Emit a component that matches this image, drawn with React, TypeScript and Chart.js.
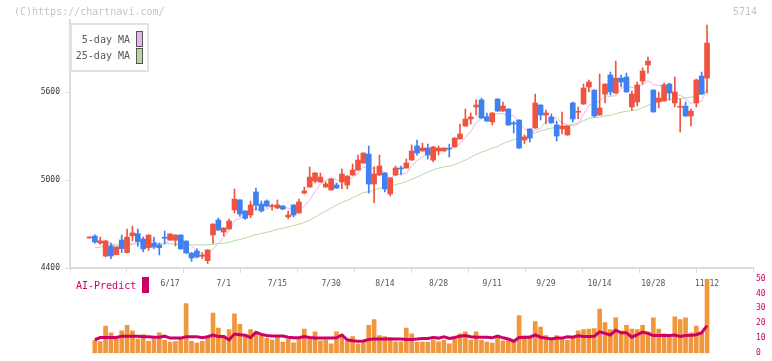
import React, { useEffect, useRef } from 'react';
import { Chart, registerables } from 'chart.js';

Chart.register(...registerables);

// ---- tick labels (every 10th session) ----
const tickLabels = ['6/17', '7/1', '7/15', '7/30', '8/14', '8/28', '9/11', '9/29', '10/14', '10/28', '11/12'];
const tickIndexes = [15, 25, 35, 45, 55, 65, 75, 85, 95, 105, 115];
const priceTicks = [4400, 5000, 5600];
const volumeTicks = [0, 10, 20, 30, 40, 50];

// ---- daily prices ----
const openP = [4605, 4618, 4570, 4482, 4550, 4491, 4591, 4505, 4620, 4634,
  4598, 4539, 4570, 4557, 4607, 4591, 4591, 4625, 4584, 4502,
  4516, 4480, 4450, 4625, 4727, 4645, 4666, 4796, 4864, 4789,
  4761, 4918, 4836, 4857, 4820, 4809, 4823, 4748, 4830, 4775,
  4911, 4952, 4993, 4986, 4952, 4932, 4966, 4986, 4966, 5034,
  5068, 5116, 5177, 4973, 5034, 5048, 4905, 5034, 5082, 5082,
  5136, 5232, 5198, 5218, 5136, 5198, 5198, 5218, 5225, 5280,
  5368, 5416, 5498, 5546, 5430, 5396, 5552, 5470, 5484, 5389,
  5409, 5273, 5348, 5355, 5511, 5443, 5430, 5375, 5348, 5307,
  5525, 5462, 5518, 5634, 5613, 5443, 5586, 5716, 5593, 5695,
  5702, 5498, 5532, 5675, 5784, 5613, 5532, 5539, 5654, 5525,
  5496, 5504, 5436, 5525, 5709, 5695];
const highP = [4612, 4627, 4611, 4590, 4570, 4545, 4625, 4666, 4686, 4666,
  4611, 4627, 4611, 4570, 4652, 4634, 4627, 4627, 4586, 4505,
  4530, 4505, 4525, 4702, 4741, 4675, 4734, 4939, 4866, 4791,
  4857, 4945, 4857, 4864, 4836, 4864, 4825, 4789, 4832, 4870,
  4952, 5089, 5050, 5048, 4986, 5009, 4980, 5075, 5029, 5109,
  5170, 5186, 5232, 5089, 5170, 5050, 5016, 5095, 5095, 5143,
  5239, 5273, 5252, 5245, 5230, 5232, 5220, 5245, 5288, 5382,
  5484, 5457, 5546, 5559, 5457, 5459, 5555, 5532, 5486, 5400,
  5411, 5307, 5350, 5586, 5514, 5477, 5450, 5402, 5464, 5370,
  5532, 5498, 5654, 5682, 5615, 5723, 5656, 5736, 5811, 5716,
  5729, 5607, 5668, 5764, 5839, 5616, 5600, 5661, 5661, 5702,
  5552, 5532, 5484, 5689, 5736, 6057];
const lowP = [4603, 4570, 4561, 4475, 4464, 4489, 4505, 4503, 4584, 4548,
  4511, 4520, 4532, 4489, 4564, 4589, 4550, 4528, 4500, 4445,
  4468, 4464, 4430, 4570, 4655, 4618, 4664, 4775, 4752, 4732,
  4743, 4795, 4782, 4816, 4795, 4805, 4798, 4734, 4748, 4773,
  4905, 4950, 4980, 4984, 4950, 4930, 4943, 4939, 4939, 5032,
  5066, 5114, 4911, 4845, 5030, 4918, 4891, 5030, 5034, 5080,
  5134, 5170, 5196, 5143, 5123, 5170, 5196, 5157, 5223, 5278,
  5366, 5382, 5443, 5420, 5400, 5375, 5468, 5468, 5373, 5320,
  5216, 5248, 5259, 5353, 5409, 5382, 5387, 5266, 5314, 5305,
  5395, 5416, 5516, 5600, 5429, 5441, 5525, 5579, 5590, 5634,
  5598, 5477, 5504, 5654, 5729, 5462, 5491, 5537, 5545, 5498,
  5327, 5434, 5368, 5498, 5584, 5593];
const closeP = [4610, 4577, 4584, 4584, 4482, 4543, 4532, 4611, 4639, 4580,
  4530, 4625, 4543, 4539, 4603, 4632, 4625, 4530, 4502, 4468,
  4475, 4484, 4523, 4700, 4659, 4673, 4720, 4870, 4768, 4739,
  4830, 4827, 4789, 4823, 4825, 4830, 4802, 4761, 4761, 4850,
  4925, 5020, 5048, 5020, 4973, 5007, 4945, 5041, 5027, 5068,
  5136, 5184, 4973, 5041, 5095, 4939, 5014, 5082, 5075, 5116,
  5198, 5184, 5218, 5170, 5225, 5218, 5218, 5211, 5286, 5314,
  5416, 5430, 5511, 5423, 5402, 5457, 5470, 5505, 5375, 5382,
  5218, 5293, 5286, 5525, 5443, 5457, 5389, 5300, 5368, 5368,
  5416, 5466, 5627, 5668, 5436, 5491, 5654, 5600, 5695, 5668,
  5600, 5586, 5648, 5743, 5811, 5464, 5559, 5648, 5593, 5600,
  5500, 5436, 5470, 5682, 5586, 5934];

// ---- moving averages ----
const ma5 = [null, 4590, 4585, 4580, 4567, 4554, 4545, 4550, 4561, 4581,
  4578, 4597, 4583, 4563, 4568, 4588, 4588, 4586, 4578, 4551,
  4520, 4492, 4490, 4530, 4568, 4608, 4655, 4724, 4738, 4754,
  4785, 4807, 4791, 4802, 4819, 4819, 4814, 4808, 4796, 4801,
  4820, 4863, 4921, 4973, 4997, 5014, 4999, 4997, 4999, 5018,
  5043, 5091, 5078, 5080, 5086, 5046, 5012, 5034, 5041, 5045,
  5097, 5131, 5158, 5177, 5199, 5203, 5210, 5208, 5232, 5249,
  5289, 5331, 5391, 5419, 5436, 5445, 5453, 5451, 5442, 5438,
  5390, 5355, 5311, 5341, 5353, 5401, 5420, 5423, 5391, 5376,
  5368, 5384, 5449, 5509, 5523, 5538, 5575, 5570, 5575, 5622,
  5643, 5630, 5639, 5649, 5678, 5650, 5645, 5645, 5615, 5573,
  5580, 5555, 5520, 5538, 5535, 5622];
const ma25 = [null, 4538, 4543, 4548, 4553, 4556, 4560, 4563, 4565, 4565,
  4565, 4565, 4565, 4565, 4565, 4565, 4562, 4560, 4559, 4558,
  4557, 4557, 4558, 4561, 4567, 4570, 4575, 4587, 4594, 4605,
  4616, 4628, 4635, 4642, 4652, 4664, 4671, 4680, 4689, 4699,
  4710, 4726, 4747, 4768, 4788, 4809, 4828, 4848, 4861, 4878,
  4896, 4915, 4919, 4930, 4944, 4948, 4956, 4968, 4978, 4989,
  5004, 5019, 5038, 5054, 5069, 5081, 5089, 5095, 5106, 5119,
  5136, 5155, 5174, 5190, 5203, 5216, 5227, 5249, 5262, 5274,
  5285, 5296, 5304, 5322, 5335, 5345, 5354, 5357, 5365, 5371,
  5379, 5388, 5405, 5420, 5425, 5428, 5437, 5441, 5452, 5462,
  5468, 5473, 5478, 5493, 5510, 5520, 5531, 5545, 5548, 5554,
  5556, 5558, 5565, 5577, 5586, 5607];

// ---- volume and AI-Predict ----
const volume = [null, 8.6, 7.8, 18.1, 13.7, 9.7, 14.9, 18.7, 14.9, 9.5,
  12.4, 8.0, 9.7, 13.7, 8.6, 7.4, 7.8, 10.1, 33.2, 8.0,
  6.7, 8.0, 11.0, 26.9, 16.8, 11.8, 15.8, 26.3, 19.3, 12.4,
  15.8, 13.9, 11.8, 10.1, 8.8, 11.1, 7.4, 9.5, 6.9, 9.5,
  16.2, 10.1, 14.3, 8.2, 9.0, 6.3, 14.3, 12.6, 8.0, 11.1,
  6.3, 7.6, 18.7, 22.5, 11.8, 11.1, 10.5, 7.6, 7.6, 16.8,
  13.0, 7.4, 7.4, 7.4, 8.6, 7.6, 8.6, 6.3, 9.5, 13.0,
  14.3, 8.8, 14.3, 8.6, 7.4, 6.7, 11.8, 8.2, 8.5, 8.0,
  25.2, 11.5, 11.5, 21.2, 17.4, 11.8, 10.5, 11.8, 10.5, 8.6,
  11.5, 14.9, 15.8, 16.2, 16.5, 29.6, 20.5, 15.8, 23.7, 14.9,
  18.7, 16.2, 15.8, 18.7, 14.3, 23.7, 16.2, 13.0, 10.7, 24.4,
  22.5, 23.7, 13.7, 18.1, 13.7, 49.6];
const aiPredict = [null, 9.0, 10.5, 10.5, 10.5, 10.5, 11.4, 11.4, 11.4, 11.4,
  11.0, 11.0, 10.7, 10.7, 11.4, 10.1, 10.1, 10.1, 11.0, 11.0,
  11.0, 10.3, 11.0, 12.2, 11.2, 11.2, 9.0, 12.8, 12.4, 12.0,
  10.5, 14.0, 12.6, 11.8, 11.5, 11.5, 11.5, 10.7, 10.3, 10.3,
  11.2, 10.5, 10.1, 10.1, 10.1, 10.1, 10.3, 12.2, 9.0, 8.4,
  8.0, 8.2, 9.2, 9.5, 9.5, 9.5, 9.5, 9.5, 9.5, 9.2,
  9.2, 9.5, 9.9, 9.9, 10.5, 10.1, 11.0, 9.9, 10.5, 11.4,
  11.8, 11.0, 10.7, 10.7, 10.7, 10.3, 11.4, 10.3, 9.5, 8.0,
  10.5, 10.7, 10.7, 12.2, 10.7, 10.1, 9.5, 10.1, 10.1, 11.0,
  10.7, 11.6, 11.2, 11.2, 11.4, 14.3, 13.3, 12.2, 15.4, 13.7,
  13.7, 10.7, 12.4, 14.1, 13.3, 11.8, 11.8, 11.8, 11.8, 12.2,
  11.2, 11.8, 12.0, 12.4, 13.7, 18.5];

// ---- styling ----
const UP = '#f05440';
const DOWN = '#4080f0';
const PINK = '#eab4ea';
const GREEN = '#b2daa0';
const ORANGE = '#f0963c';
const CRIMSON = '#cc0066';
const MONO = "'DejaVu Sans Mono', monospace";
const X_MIN = -3.63;
const X_MAX = 123.56;

export default function App() {
  const mainRef = useRef<HTMLCanvasElement>(null);
  const volRef = useRef<HTMLCanvasElement>(null);

  useEffect(() => {
    const idx = closeP.map((_, i) => i);
    const colors = idx.map((i) => (closeP[i] >= openP[i] ? UP : DOWN));

    const main = new Chart(mainRef.current as HTMLCanvasElement, {
      type: 'bar',
      data: {
        datasets: [
          {
            type: 'bar',
            label: 'body',
            data: idx.map((i) => ({ x: i, y: [openP[i], closeP[i]] })) as any,
            backgroundColor: colors,
            borderWidth: 0,
            barThickness: 5,
            minBarLength: 1,
            grouped: false,
            order: 0,
          } as any,
          {
            type: 'bar',
            label: 'wick',
            data: idx.map((i) => ({ x: i, y: [lowP[i], highP[i]] })) as any,
            backgroundColor: colors,
            borderWidth: 0,
            barThickness: 1,
            grouped: false,
            order: 1,
          } as any,
          {
            type: 'line',
            label: '5-day MA',
            data: idx.map((i) => ({ x: i, y: ma5[i] })) as any,
            borderColor: PINK,
            borderWidth: 1,
            pointRadius: 0,
            tension: 0,
            order: 2,
          } as any,
          {
            type: 'line',
            label: '25-day MA',
            data: idx.map((i) => ({ x: i, y: ma25[i] })) as any,
            borderColor: GREEN,
            borderWidth: 1,
            pointRadius: 0,
            tension: 0,
            order: 3,
          } as any,
        ],
      },
      options: {
        responsive: false,
        animation: false,
        devicePixelRatio: 1,
        events: [],
        layout: { padding: { top: 20, right: 19, left: 0, bottom: 0 } },
        plugins: { legend: { display: false }, tooltip: { enabled: false } },
        scales: {
          x: {
            type: 'linear',
            position: 'bottom',
            min: X_MIN,
            max: X_MAX,
            offset: false,
            weight: 1,
            afterBuildTicks: (s: any) => {
              s.ticks = tickIndexes.map((v) => ({ value: v }));
            },
            afterFit: (s: any) => {
              s.height = 26;
            },
            ticks: {
              autoSkip: false,
              maxRotation: 0,
              padding: 5,
              color: '#555',
              font: { family: MONO, size: 8 },
              callback: (_v: any, i: number) => tickLabels[i],
            },
            grid: { display: false, drawTicks: false },
            border: { display: false },
          } as any,
          xTicks: {
            type: 'linear',
            position: 'bottom',
            display: true,
            min: 0,
            max: 11,
            weight: 0,
            afterFit: (s: any) => {
              s.height = 6;
            },
            ticks: { display: false, stepSize: 1 },
            grid: { drawOnChartArea: false, drawTicks: true, tickLength: 5, color: '#dddddd', lineWidth: 1 },
            border: { display: true, color: '#dddddd', width: 2 },
          } as any,
          y: {
            type: 'linear',
            position: 'left',
            min: 4400,
            max: 6091,
            afterBuildTicks: (s: any) => {
              s.ticks = priceTicks.map((v) => ({ value: v }));
            },
            afterFit: (s: any) => {
              s.width = 70;
            },
            ticks: {
              padding: 5,
              color: '#333',
              font: { family: MONO, size: 8 },
              callback: (v: any) => String(v),
            },
            grid: { drawOnChartArea: false, drawTicks: true, tickLength: 5, color: '#dddddd' },
            border: { display: true, color: '#dddddd', width: 2 },
          } as any,
        },
      },
    });

    const vIdx = idx.filter((i) => volume[i] !== null);
    const vol = new Chart(volRef.current as HTMLCanvasElement, {
      type: 'bar',
      data: {
        datasets: [
          {
            type: 'line',
            label: 'AI-Predict',
            data: vIdx.map((i) => ({ x: i, y: aiPredict[i] })) as any,
            borderColor: CRIMSON,
            borderWidth: 3,
            pointRadius: 0,
            tension: 0,
            order: 0,
          } as any,
          {
            type: 'bar',
            label: 'Volume',
            data: vIdx.map((i) => ({ x: i, y: volume[i] })) as any,
            backgroundColor: ORANGE,
            borderWidth: 0,
            barThickness: 4,
            order: 1,
          } as any,
        ],
      },
      options: {
        responsive: false,
        animation: false,
        devicePixelRatio: 1,
        events: [],
        layout: { padding: { top: 8.5, right: 0, left: 70, bottom: 2.5 } },
        plugins: { legend: { display: false }, tooltip: { enabled: false } },
        scales: {
          x: { type: 'linear', min: X_MIN, max: X_MAX, offset: false, display: false } as any,
          y: {
            type: 'linear',
            position: 'right',
            min: 0,
            max: 50,
            afterBuildTicks: (s: any) => {
              s.ticks = volumeTicks.map((v) => ({ value: v }));
            },
            afterFit: (s: any) => {
              s.width = 19;
            },
            ticks: {
              padding: 3,
              color: CRIMSON,
              font: { family: MONO, size: 8 },
              callback: (v: any) => String(v),
            },
            grid: { display: false, drawTicks: false },
            border: { display: false },
          } as any,
        },
      },
    });

    return () => {
      main.destroy();
      vol.destroy();
    };
  }, []);

  const txt: React.CSSProperties = {
    position: 'absolute',
    fontFamily: MONO,
    fontSize: 10,
    lineHeight: '12px',
    whiteSpace: 'nowrap',
  };

  return (
    <div style={{ position: 'absolute', left: 0, top: 0, width: 772, height: 361, background: '#fff', overflow: 'hidden' }}>
      <canvas ref={mainRef} width={772} height={300} style={{ position: 'absolute', left: 0, top: 0 }} />
      <canvas ref={volRef} width={772} height={91} style={{ position: 'absolute', left: 0, top: 270 }} />

      <div style={{ ...txt, left: 14, top: 6, color: '#c4c4c4' }}>(C)https://chartnavi.com/</div>
      <div style={{ ...txt, left: 733, top: 6, color: '#c4c4c4' }}>5714</div>

      <div
        style={{
          position: 'absolute',
          left: 70,
          top: 23,
          width: 79,
          height: 49,
          border: '2px solid #e2e2e2',
          boxSizing: 'border-box',
          background: '#fff',
        }}
      />
      <div style={{ ...txt, left: 60, width: 70, textAlign: 'right', top: 34, color: '#555' }}>5-day MA</div>
      <div
        style={{ position: 'absolute', left: 136, top: 31, width: 7, height: 16, border: '1px solid #555', boxSizing: 'border-box', background: PINK }}
      />
      <div style={{ ...txt, left: 60, width: 70, textAlign: 'right', top: 50, color: '#555' }}>25-day MA</div>
      <div
        style={{ position: 'absolute', left: 136, top: 48, width: 7, height: 16, border: '1px solid #555', boxSizing: 'border-box', background: GREEN }}
      />

      <div style={{ ...txt, left: 76, top: 280, color: CRIMSON }}>AI-Predict</div>
      <div style={{ position: 'absolute', left: 142, top: 277, width: 7, height: 16, background: CRIMSON }} />
    </div>
  );
}
